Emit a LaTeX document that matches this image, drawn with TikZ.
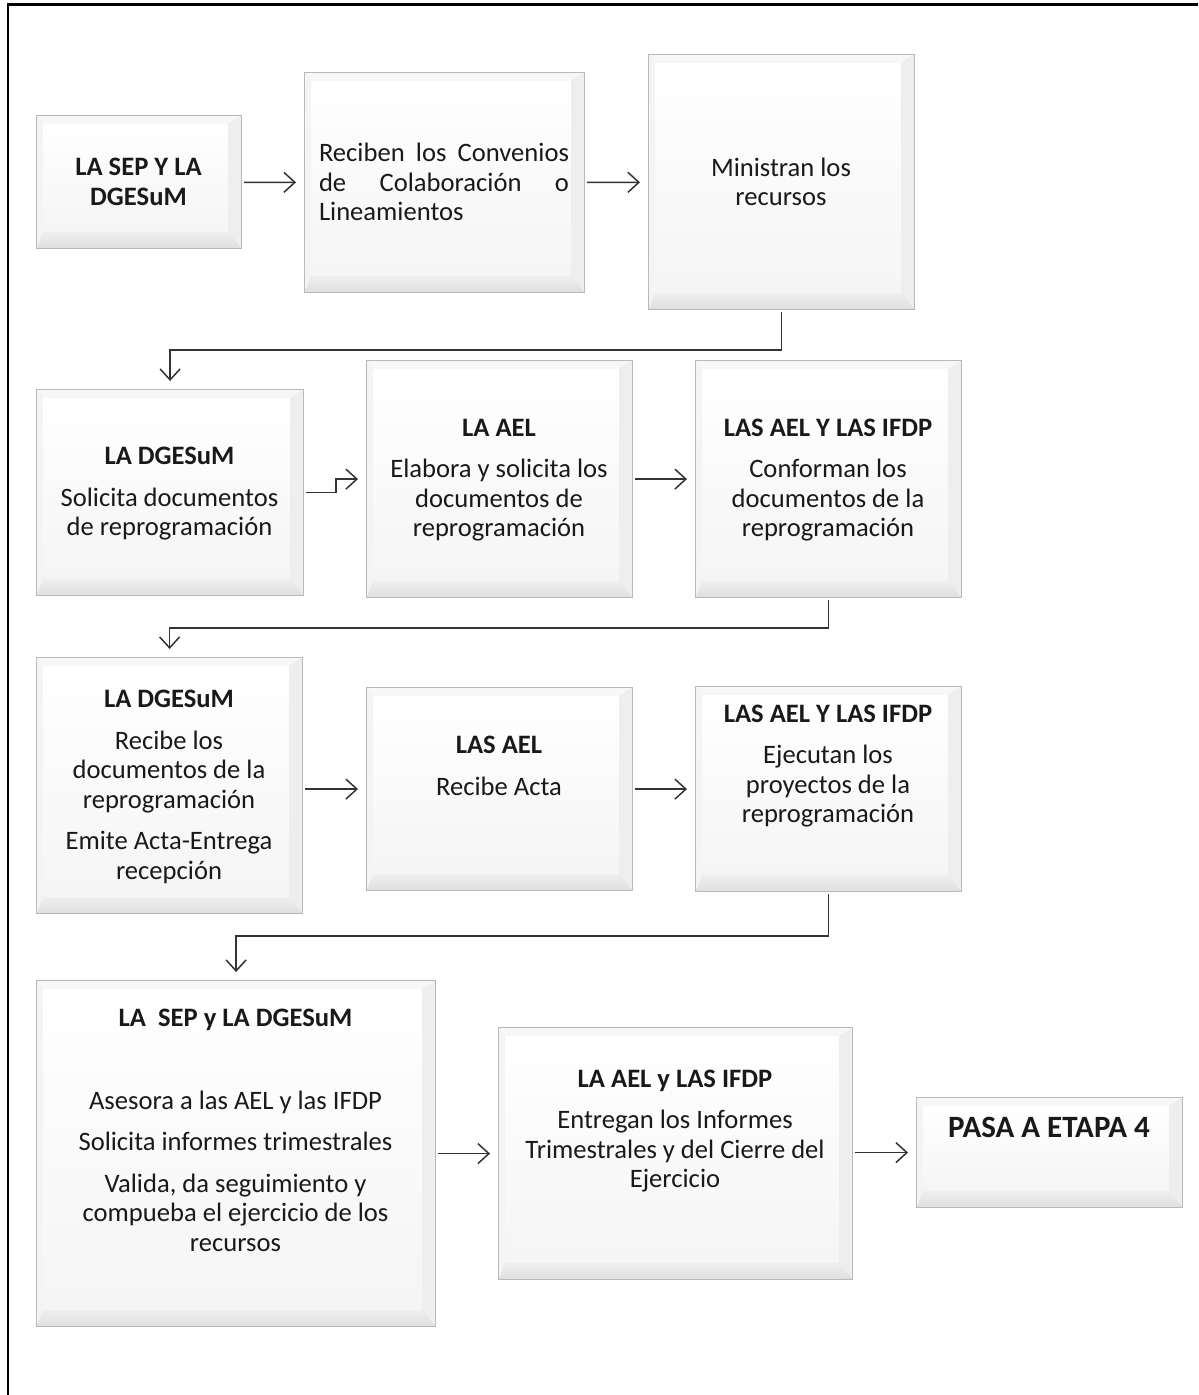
\documentclass[tikz,border=0pt]{standalone}
\usepackage{fontspec}
\setmainfont{Carlito}
\usetikzlibrary{arrows.meta,calc}
\tikzset{
  x=0.5pt,y=-0.5pt,
  bev/.style={draw=gray!55, line width=0.6pt, fill=gray!20, rectangle, inner sep=0pt, anchor=north west,
    path picture={
      \path (path picture bounding box.south west) coordinate (sw)
            (path picture bounding box.north east) coordinate (ne);
      \coordinate (isw) at ($(sw)+(3.5pt,8.5pt)$);
      \coordinate (ine) at ($(ne)+(-7pt,-4.5pt)$);
      \fill[gray!6] (sw|-ne) -- (ne) -- (ine) -- (isw|-ine) -- cycle;
      \fill[gray!9] (sw|-ne) -- (isw|-ine) -- (isw) -- (sw) -- cycle;
      \fill[gray!13] (ne) -- (ne|-sw) -- (ine|-isw) -- (ine) -- cycle;
      \shade[top color=gray!12, bottom color=gray!26] (sw) -- (isw) -- (ine|-isw) -- (ne|-sw) -- cycle;
      \shade[top color=white, bottom color=gray!8] (isw) rectangle (ine);
    }},
  txt/.style={align=center, font=\fontsize{13.3}{14.75}\selectfont, inner sep=0pt, text=black!90},
  arr/.style={draw=black!80, line width=0.75pt, -{Straight Barb[length=5.5pt,width=10pt]}, shorten >=4pt, shorten <=1pt},
}
\newcommand\mybox[5]{\node[bev, minimum width={(#4-#2)*0.5pt}, minimum height={(#5-#3)*0.5pt}] (#1) at (#2,#3) {};}
\begin{document}
\begin{tikzpicture}
\useasboundingbox (0,0) rectangle (1198,1395);
% frame
\draw[line width=1.5pt] (1198,5) -- (7,5);
\draw[line width=1pt] (7.5,5) -- (7.5,1395);
% boxes
\mybox{bA}{36}{115}{241}{248}
\mybox{bB}{304}{72}{584}{292}
\mybox{bC}{648}{54}{914}{309}
\mybox{bD}{36}{389}{303}{595}
\mybox{bE}{366}{360}{632}{597}
\mybox{bF}{695}{360}{961}{597}
\mybox{bG}{36}{657}{302}{913}
\mybox{bH}{366}{687}{632}{890}
\mybox{bI}{695}{686}{961}{891}
\mybox{bJ}{36}{980}{435}{1326}
\mybox{bK}{498}{1027}{852}{1279}
\mybox{bL}{916}{1097}{1182}{1207}
% texts
\node[txt] (tA) at (138.5,182) {\textbf{LA SEP Y LA}\\\textbf{DGESuM}};
\node[txt, align=left] (tB) at (444,182) {\makebox[125pt][s]{Reciben los Convenios}\\\makebox[125pt][s]{de Colaboración o}\\\makebox[125pt][l]{Lineamientos}};
\node[txt] (tC) at (781,182) {Ministran los\\recursos};
\node[txt] (tD) at (169.5,494) {\textbf{LA DGESuM}\\[6pt]Solicita documentos\\de reprogramación};
\node[txt] (tE) at (499,480) {\textbf{LA AEL}\\[6pt]Elabora y solicita los\\documentos de\\reprogramación};
\node[txt] (tF) at (828,480) {\textbf{LAS AEL Y LAS IFDP}\\[6pt]Conforman los\\documentos de la\\reprogramación};
\node[txt] (tG) at (169,787) {\textbf{LA DGESuM}\\[6pt]Recibe los\\documentos de la\\reprogramación\\[6pt]Emite Acta-Entrega\\recepción};
\node[txt] (tH) at (499,766) {\textbf{LAS AEL}\\[6pt]Recibe Acta};
\node[txt] (tI) at (828,766) {\textbf{LAS AEL Y LAS IFDP}\\[6pt]Ejecutan los\\proyectos de la\\reprogramación};
\node[txt] (tJ) at (235.5,1130) {\textbf{LA\ \ SEP y LA DGESuM}\\[6pt]\mbox{}\\[6pt]Asesora a las AEL y las IFDP\\[6pt]Solicita informes trimestrales\\[6pt]Valida, da seguimiento y\\compueba el ejercicio de los\\recursos};
\node[txt] (tK) at (675,1131) {\textbf{LA AEL y LAS IFDP}\\[6pt]Entregan los Informes\\Trimestrales y del Cierre del\\Ejercicio};
\node[txt, font=\fontsize{15.5}{18}\selectfont\bfseries] (tL) at (1049,1127) {PASA A ETAPA 4};
% connectors
\draw[arr] (bA) -- (bB);
\draw[arr] (bB) -- (bC);
\draw[arr] (bC.south) -- ++(0,40) -| (bD.north);
\draw[arr] (bD.east) -- ++(32,0) |- (bE.west);
\draw[arr] (bE) -- (bF);
\draw[arr] (bF.south) -- ++(0,30) -| (bG.north);
\draw[arr] (bG.east |- bH.west) -- (bH.west);
\draw[arr] (bH) -- (bI);
\draw[arr] (bI.south) -- ++(0,44) -| (bJ.north);
\draw[arr] (bJ.east |- bK.west) -- (bK.west);
\draw[arr] (bK.east |- bL.west) -- (bL.west);
\end{tikzpicture}
\end{document}
